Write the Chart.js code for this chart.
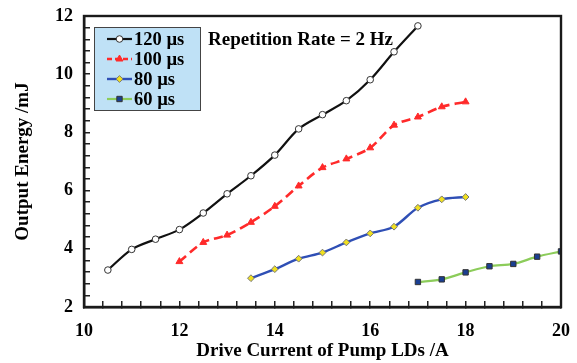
<!DOCTYPE html>
<html>
<head>
<meta charset="utf-8">
<script src="https://cdn.jsdelivr.net/npm/chart.js@4/dist/chart.umd.min.js"></script>
<style>
html,body{margin:0;padding:0;background:#fff;}
#wrap{width:577px;height:363px;position:relative;}
</style>
</head>
<body>
<div id="wrap"><canvas id="c" width="577" height="363"></canvas></div>
<script>
// ---- data ----
const labels120 = "120 µs", labels100 = "100 µs", labels80 = "80 µs", labels60 = "60 µs";
const x120 = [10.5, 11, 11.5, 12, 12.5, 13, 13.5, 14, 14.5, 15, 15.5, 16, 16.5, 17];
const y120 = [3.27, 3.98, 4.33, 4.66, 5.23, 5.89, 6.51, 7.22, 8.12, 8.61, 9.09, 9.81, 10.77, 11.66];
const x100 = [12, 12.5, 13, 13.5, 14, 14.5, 15, 15.5, 16, 16.5, 17, 17.5, 18];
const y100 = [3.56, 4.22, 4.47, 4.91, 5.46, 6.16, 6.79, 7.09, 7.47, 8.25, 8.53, 8.88, 9.05];
const x80 = [13.5, 14, 14.5, 15, 15.5, 16, 16.5, 17, 17.5, 18];
const y80 = [2.99, 3.30, 3.66, 3.87, 4.22, 4.53, 4.76, 5.41, 5.70, 5.78];
const x60 = [17, 17.5, 18, 18.5, 19, 19.5, 20];
const y60 = [2.86, 2.95, 3.19, 3.40, 3.48, 3.73, 3.91];
const xTickLabels = [10, 12, 14, 16, 18, 20];
const yTickLabels = [2, 4, 6, 8, 10, 12];
const annotationText = "Repetition Rate = 2 Hz";
const xTitle = "Drive Current of Pump LDs /A";
const yTitle = "Output Energy /mJ";

const pts = (xs, ys) => xs.map((x, i) => ({x: x, y: ys[i]}));
const SERIF = "'Liberation Serif','Times New Roman',serif";

const datasets = [
  {label: labels120, data: pts(x120, y120), borderColor: '#111111', borderWidth: 2.2,
   pointStyle: 'circle', pointRadius: 3.3, pointBackgroundColor: '#ffffff', pointBorderColor: '#333333', pointBorderWidth: 1, tension: 0.3},
  {label: labels100, data: pts(x100, y100), borderColor: '#ff2a2a', borderWidth: 2.6, borderDash: [9, 5],
   pointStyle: 'triangle', pointRadius: 4, pointBackgroundColor: '#ff2a2a', pointBorderColor: '#ff2a2a', pointBorderWidth: 1, tension: 0.3},
  {label: labels80, data: pts(x80, y80), borderColor: '#2f4fb5', borderWidth: 2.4,
   pointStyle: 'rectRot', pointRadius: 3.4, pointBackgroundColor: '#f0e020', pointBorderColor: '#777777', pointBorderWidth: 1, tension: 0.3},
  {label: labels60, data: pts(x60, y60), borderColor: '#8ccc5a', borderWidth: 2.2,
   pointStyle: 'rect', pointRadius: 3.8, pointBackgroundColor: '#1a3f92', pointBorderColor: '#333333', pointBorderWidth: 1, tension: 0.3}
];

const isMajor = v => xTickLabels.concat(yTickLabels).some(t => Math.abs(t - v) < 1e-6);

const overlayPlugin = {
  id: 'overlay',
  afterDraw(chart) {
    const ctx = chart.ctx, a = chart.chartArea;
    ctx.save();
    ctx.setLineDash([]);
    // plot frame (top/right/bottom/left)
    ctx.strokeStyle = '#1a1a1a';
    ctx.lineWidth = 2.4;
    ctx.strokeRect(a.left, a.top, a.right - a.left, a.bottom - a.top);
    // annotation
    ctx.fillStyle = '#000000';
    ctx.font = "bold 19px " + SERIF;
    ctx.textBaseline = 'middle';
    ctx.textAlign = 'left';
    ctx.fillText(annotationText, 208, 40);
    // legend
    const lx = 94, ly = 27, lw = 106, lh = 83;
    ctx.fillStyle = '#bfe1f6';
    ctx.fillRect(lx, ly, lw, lh);
    ctx.strokeStyle = '#444444';
    ctx.lineWidth = 1;
    ctx.strokeRect(lx + 0.5, ly + 0.5, lw, lh);
    const rows = [39, 59, 79, 99];
    chart.data.datasets.forEach((ds, i) => {
      const y = rows[i];
      ctx.save();
      ctx.strokeStyle = ds.borderColor;
      ctx.lineWidth = ds.borderWidth;
      ctx.setLineDash(ds.borderDash ? [5, 3] : []);
      ctx.beginPath(); ctx.moveTo(107, y); ctx.lineTo(132, y); ctx.stroke();
      ctx.restore();
      ctx.save();
      ctx.setLineDash([]);
      ctx.fillStyle = ds.pointBackgroundColor;
      ctx.strokeStyle = ds.pointBorderColor;
      ctx.lineWidth = ds.pointBorderWidth;
      Chart.helpers.drawPoint(ctx, {pointStyle: ds.pointStyle, radius: ds.pointRadius, borderWidth: ds.pointBorderWidth, rotation: 0}, 119.5, y);
      ctx.restore();
      ctx.fillStyle = '#000000';
      ctx.font = "bold 18.5px " + SERIF;
      ctx.textBaseline = 'middle';
      ctx.textAlign = 'left';
      ctx.fillText(ds.label, 134, y + 1);
    });
    ctx.restore();
  }
};

const tickFont = {family: SERIF, size: 18, weight: 'bold'};
const innerGrid = {display: true, drawOnChartArea: false, drawTicks: true, tickLength: -6, color: '#222222', lineWidth: 1.5};
const frameBorder = {display: true, color: '#1a1a1a', width: 2.4};

new Chart(document.getElementById('c'), {
  type: 'line',
  data: {datasets: datasets},
  options: {
    responsive: false,
    animation: false,
    devicePixelRatio: 1,
    layout: {padding: {top: 16, right: 16, left: 12, bottom: 0}},
    plugins: {legend: {display: false}, tooltip: {enabled: false}},
    scales: {
      x: {
        type: 'linear', min: 10, max: 20, position: 'bottom',
        afterFit: s => { s.height = 56; s.paddingLeft = 0; s.paddingRight = 0; },
        grid: innerGrid,
        border: frameBorder,
        ticks: {stepSize: 0.4, autoSkip: false, maxRotation: 0, padding: 20, color: '#000', font: tickFont,
          callback: v => isMajor(v) ? String(Math.round(v)) : ''},
        title: {display: true, text: xTitle, color: '#000', padding: {top: 0, bottom: 1},
          font: {family: SERIF, size: 19, weight: 'bold'}}
      },
      y: {
        type: 'linear', min: 2, max: 12, position: 'left',
        afterFit: s => { s.width = 72; s.paddingTop = 0; s.paddingBottom = 0; },
        grid: innerGrid,
        border: frameBorder,
        ticks: {stepSize: 0.4, autoSkip: false, padding: 17, color: '#000', font: tickFont,
          callback: v => isMajor(v) ? String(Math.round(v)) : ''},
        title: {display: true, text: yTitle, color: '#000', padding: {top: 0, bottom: 0},
          font: {family: SERIF, size: 19, weight: 'bold'}}
      }
    }
  },
  plugins: [overlayPlugin]
});
</script>
</body>
</html>
